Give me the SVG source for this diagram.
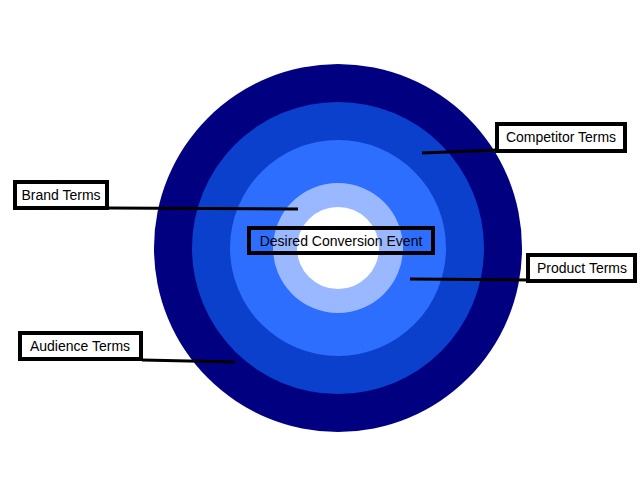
<svg xmlns="http://www.w3.org/2000/svg" width="640" height="480" viewBox="0 0 640 480">
<style>
.lb{fill:#fff;stroke:#000;stroke-width:4}
.t{font-family:"Liberation Sans",Arial,sans-serif;font-size:14px;fill:#000}
.c{stroke:#000;stroke-width:3;fill:none}
</style>
<rect width="640" height="480" fill="#fff"/>
<g id="rings">
<circle cx="338" cy="248" r="184" fill="#000080"/>
<circle cx="338" cy="248" r="146" fill="#0a40cc"/>
<circle cx="338" cy="248" r="108" fill="#2e6eff"/>
<circle cx="338" cy="248" r="65" fill="#99b8ff"/>
<circle cx="338" cy="248" r="41" fill="#fff"/>
</g>
<g id="connectors">
<line class="c" x1="422" y1="153" x2="497" y2="150"/>
<line class="c" x1="108" y1="208" x2="298" y2="209"/>
<line class="c" x1="410" y1="279" x2="528" y2="280"/>
<line class="c" x1="142" y1="360" x2="235" y2="362"/>
</g>
<g id="center"><rect x="249" y="228" width="184" height="25" fill="none" stroke="#000" stroke-width="4"/><text class="t" x="341" y="246" text-anchor="middle" fill="#0a1a5a">Desired Conversion Event</text></g>
<g id="competitor"><rect class="lb" x="497" y="124" width="128" height="27"/><text class="t" x="561" y="142" text-anchor="middle">Competitor Terms</text></g>
<g id="brand"><rect class="lb" x="15" y="182" width="92" height="26"/><text class="t" x="61" y="200" text-anchor="middle">Brand Terms</text></g>
<g id="product"><rect class="lb" x="528" y="255" width="107" height="26"/><text class="t" x="582" y="273" text-anchor="middle">Product Terms</text></g>
<g id="audience"><rect class="lb" x="20" y="333" width="121" height="26"/><text class="t" x="80" y="351" text-anchor="middle">Audience Terms</text></g>
</svg>
